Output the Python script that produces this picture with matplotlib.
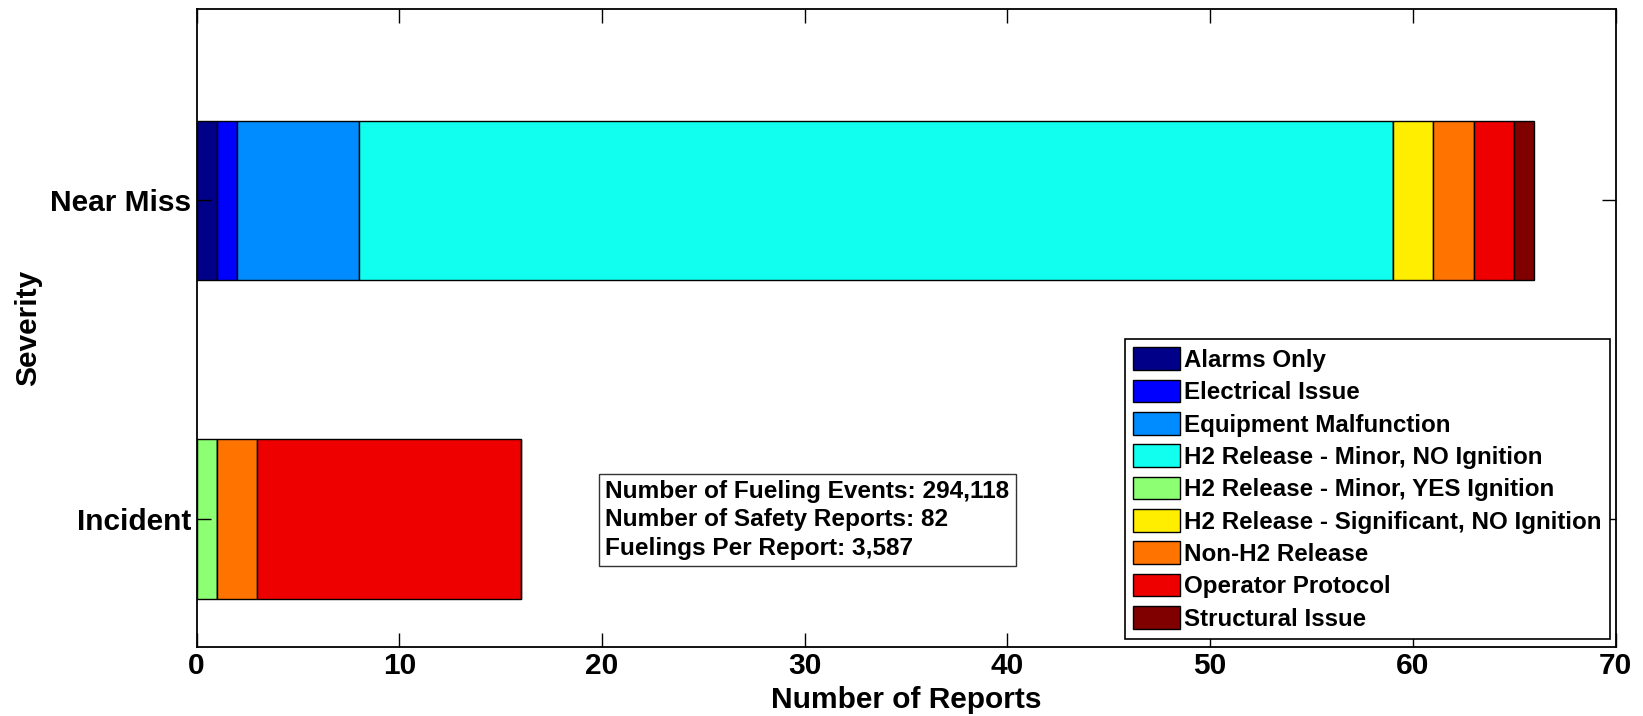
import matplotlib
matplotlib.use("Agg")
import matplotlib.pyplot as plt
import numpy as np

categories = ["Incident", "Near Miss"]
series_names = [
    "Alarms Only",
    "Electrical Issue",
    "Equipment Malfunction",
    "H2 Release - Minor, NO Ignition",
    "H2 Release - Minor, YES Ignition",
    "H2 Release - Significant, NO Ignition",
    "Non-H2 Release",
    "Operator Protocol",
    "Structural Issue",
]
# values per series: [Incident, Near Miss]
alarms_only = [0, 1]
electrical_issue = [0, 1]
equipment_malfunction = [0, 6]
h2_minor_no = [0, 51]
h2_minor_yes = [1, 0]
h2_significant_no = [0, 2]
non_h2_release = [2, 2]
operator_protocol = [13, 2]
structural_issue = [0, 1]
series_values = [alarms_only, electrical_issue, equipment_malfunction, h2_minor_no,
                 h2_minor_yes, h2_significant_no, non_h2_release, operator_protocol,
                 structural_issue]
colors = ["#000088", "#0000FF", "#008CFF", "#11FFEE", "#8CFF73",
          "#FFEE00", "#FF7300", "#EE0000", "#800000"]
x_ticks = [0, 10, 20, 30, 40, 50, 60, 70]
info_lines = ["Number of Fueling Events: 294,118",
              "Number of Safety Reports: 82",
              "Fuelings Per Report: 3,587"]

plt.rcParams['font.family'] = ['Liberation Sans', 'DejaVu Sans']
plt.rcParams['font.weight'] = 'bold'

fig = plt.figure(figsize=(16.43, 7.16), dpi=100)
ax = fig.add_axes([0.1197, 0.0968, 0.8636, 0.8906])

ypos = np.arange(1, len(categories) + 1)
left = np.zeros(len(categories))
for name, vals, c in zip(series_names, series_values, colors):
    vals = np.array(vals, dtype=float)
    ax.barh(ypos, vals, height=0.5, left=left, color=c, edgecolor='black',
            linewidth=1.0, label=name)
    left += vals

ax.set_xlim(0, 70)
ax.set_ylim(0.6, 2.6)
ax.set_xticks(x_ticks)
ax.set_yticks(ypos)
ax.set_yticklabels(categories)
ax.tick_params(axis='both', direction='in', length=10, width=1, labelsize=21.5,
               top=True, right=True)
ax.tick_params(axis='x', pad=4)
ax.tick_params(axis='y', pad=4)
for lab in ax.get_xticklabels() + ax.get_yticklabels():
    lab.set_fontweight('bold')
for s in ax.spines.values():
    s.set_linewidth(1.3)

ax.set_xlabel("Number of Reports", fontsize=21.5, fontweight='bold', labelpad=4)
ax.set_ylabel("Severity", fontsize=21.5, fontweight='bold', labelpad=6)

ax.text(0.288, 0.262, "\n".join(info_lines), transform=ax.transAxes,
        fontsize=17.6, fontweight='bold', va='top', ha='left', linespacing=1.32,
        bbox=dict(boxstyle='square,pad=0.25', facecolor='white',
                  edgecolor='#333333', linewidth=1))

leg = ax.legend(loc='lower right', bbox_to_anchor=(0.9961, 0.012), fontsize=17.4,
                frameon=True, fancybox=False, edgecolor='black', framealpha=1,
                handlelength=1.94, handleheight=1.07, handletextpad=0.17,
                labelspacing=0.32, borderpad=0.35, borderaxespad=0)
leg.get_frame().set_linewidth(1.2)
for t in leg.get_texts():
    t.set_fontweight('bold')

fig.savefig("out.png", dpi=100)
